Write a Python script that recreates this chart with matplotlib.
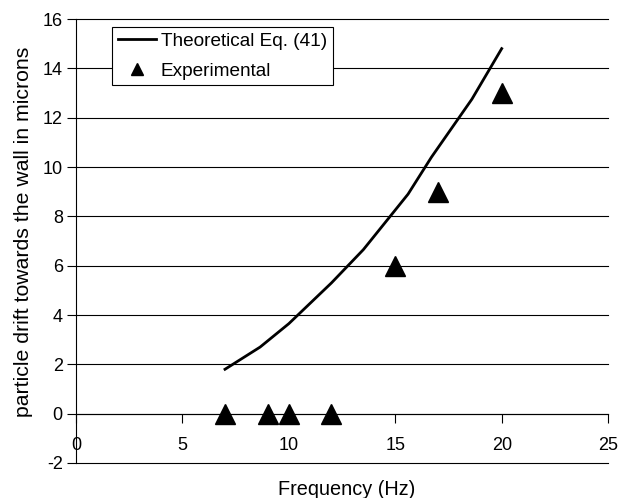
import matplotlib
matplotlib.use('Agg')
import matplotlib.pyplot as plt

plt.rcParams['font.family'] = ['Liberation Sans', 'DejaVu Sans']
plt.rcParams['axes.unicode_minus'] = False

# Data
theory_freq = [7, 8.65, 10, 12, 13.5, 15.6, 16.7, 18.6, 20]
theory_drift = [1.8, 2.7, 3.65, 5.3, 6.65, 8.9, 10.4, 12.75, 14.8]
exp_freq = [7, 9, 10, 12, 15, 17, 20]
exp_drift = [0, 0, 0, 0, 6, 9, 13]
xticks = [0, 5, 10, 15, 20, 25]
yticks = [-2, 0, 2, 4, 6, 8, 10, 12, 14, 16]

fig = plt.figure(figsize=(6.18, 4.98), dpi=100)
ax = fig.add_axes([0.123, 0.0703, 0.861, 0.8915])
ax.set_xlim(0, 25)
ax.set_ylim(-2, 16)

for y in yticks:
    ax.axhline(y, color='black', lw=0.8, zorder=1, clip_on=False)

ax.plot(theory_freq, theory_drift, color='black', lw=2, zorder=3,
        label='Theoretical Eq. (41)')
ax.plot(exp_freq, exp_drift, linestyle='none', marker='^', markersize=15,
        color='black', zorder=4, label='Experimental')

ax.set_xticks(xticks)
ax.set_yticks(yticks)
ax.spines['top'].set_visible(False)
ax.spines['right'].set_visible(False)
ax.spines['bottom'].set_position(('data', 0))
ax.spines['bottom'].set_linewidth(0.8)
ax.spines['left'].set_linewidth(0.8)
ax.tick_params(axis='x', direction='out', length=6.5, width=0.8, pad=10, labelsize=13)
ax.tick_params(axis='y', direction='out', length=6.5, width=0.8, pad=3, labelsize=13)

ax.set_xlabel('Frequency (Hz)', fontsize=14.3)
ax.set_ylabel('particle drift towards the wall in microns', fontsize=15.3)
ax.xaxis.set_label_coords(0.508, -0.038)
ax.yaxis.set_label_coords(-0.081, 0.52)

leg = ax.legend(loc='upper left', bbox_to_anchor=(0.068, 0.982), frameon=True,
                fancybox=False, edgecolor='black', framealpha=1,
                borderaxespad=0, handlelength=2.0, handletextpad=0.25,
                markerscale=0.6, fontsize=13.7, labelspacing=0.65,
                borderpad=0.3)
leg.get_frame().set_linewidth(0.8)
leg.set_zorder(5)

fig.savefig('out.png', dpi=100)
